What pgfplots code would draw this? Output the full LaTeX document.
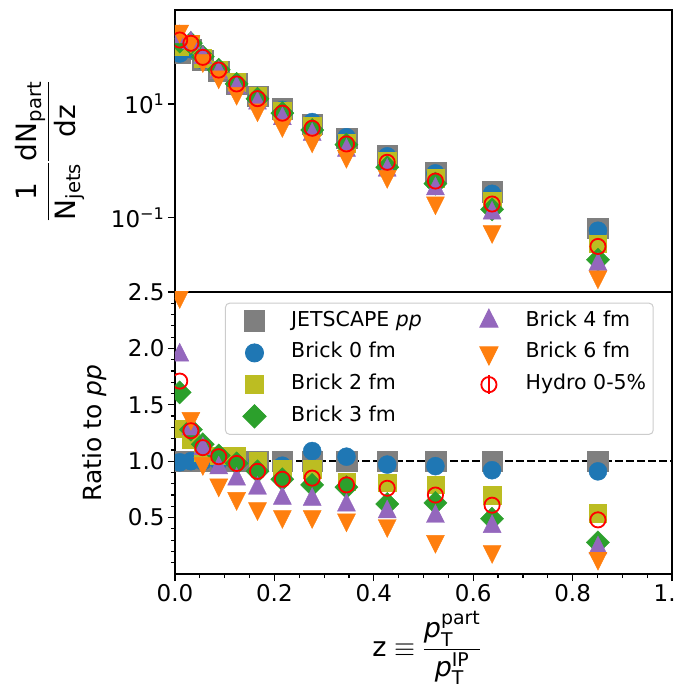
\RequirePackage{fix-cm}
\documentclass[border=0pt]{standalone}
\usepackage{amsmath}
\usepackage{fontspec}
\setmainfont{DejaVu Sans}
\usepackage{pgfplots}
\usepackage{pgfplotstable}
\pgfplotsset{compat=1.18}

\definecolor{cgray}{HTML}{7F7F7F}
\definecolor{cblue}{HTML}{1F77B4}
\definecolor{colive}{HTML}{BCBD22}
\definecolor{cgreen}{HTML}{2CA02C}
\definecolor{cpurple}{HTML}{9467BD}
\definecolor{corange}{HTML}{FF7F0E}
\definecolor{cred}{HTML}{FF0000}

% ratio to pp (bottom panel)
\pgfplotstableread{
z      pp  b0    b2   b3   b4    b6   hy
0.0095 1   0.99  1.29 1.61 1.94  2.46 1.71
0.032  1   1.00  1.19 1.28 1.285 1.38 1.27
0.056  1   1.00  1.08 1.15 1.11  0.98 1.12
0.088  1   1.00  1.05 1.05 0.94  0.79 1.04
0.124  1   1.00  1.05 0.98 0.84  0.67 0.98
0.166  1   1.00  1.00 0.91 0.76  0.58 0.91
0.216  1   0.96  0.93 0.84 0.67  0.51 0.84
0.276  1   1.09  0.93 0.79 0.66  0.51 0.85
0.345  1   1.04  0.82 0.77 0.61  0.48 0.79
0.427  1   0.97  0.81 0.62 0.55  0.43 0.76
0.524  1   0.956 0.79 0.63 0.51  0.29 0.70
0.638  1   0.92  0.70 0.49 0.42  0.20 0.61
0.851  1   0.91  0.54 0.28 0.23  0.14 0.48
}\ratiotab

% 1/Njets dN/dz (top panel)
\pgfplotstableread{
z      pp    b0     b2     b3     b4     b6     hy
0.0095 78    77.2   100.6  125.6  151.3  191.9  133.4
0.032  92    92     109.5  117.8  118.2  127    116.8
0.056  59    59     63.7   67.9   65.5   57.8   66.1
0.088  38    38     39.9   39.9   35.7   30.0   39.5
0.124  23    23     24.2   22.5   19.3   15.4   22.5
0.166  13.6  13.6   13.6   12.4   10.3   7.89   12.4
0.216  8.2   7.87   7.63   6.89   5.49   4.18   6.89
0.276  4.4   4.80   4.09   3.48   2.90   2.24   3.74
0.345  2.5   2.60   2.05   1.93   1.53   1.20   1.98
0.427  1.24  1.20   1.00   0.769  0.682  0.533  0.942
0.524  0.63  0.602  0.498  0.397  0.321  0.183  0.441
0.638  0.286 0.263  0.200  0.140  0.120  0.0572 0.174
0.851  0.065 0.059  0.0351 0.0182 0.0150 0.0091 0.0312
}\spectab

\pgfplotsset{
  spp/.style={only marks, mark=square*, mark size=10.3pt, color=cgray},
  sb0/.style={only marks, mark=*, mark size=9pt, color=cblue},
  sb2/.style={only marks, mark=square*, mark size=8.7pt, color=colive},
  sb3/.style={only marks, mark=square*, mark size=8.2pt, mark options={rotate=45}, color=cgreen},
  sb4/.style={only marks, mark=triangle*, mark size=10.4pt, mark options={yscale=1.15}, color=cpurple},
  sb6/.style={only marks, mark=triangle*, mark size=10.4pt, mark options={rotate=180,yscale=1.15}, color=corange},
  shy/.style={only marks, mark=o, mark size=7.6pt, mark options={line width=1.8pt, fill=none}, color=cred},
  legimg/.style={legend image code/.code={%
      \path[draw=none,fill=none] (-24pt,-10pt) rectangle (34.7pt,10pt);
      \draw[sharp corners,##1] plot coordinates {(0pt,0pt)};}},
  legimghy/.style={legend image code/.code={%
      \path[draw=none,fill=none] (-24pt,-10pt) rectangle (34.7pt,10pt);
      \draw[sharp corners,cred,line width=1.8pt] (0pt,-9.5pt) -- (0pt,9.5pt);
      \draw[sharp corners,##1] plot coordinates {(0pt,0pt)};}},
  common/.style={
    width=497pt, height=282pt, scale only axis,
    xmin=0, xmax=1,
    tick align=outside, xtick pos=left, ytick pos=left,
    major tick length=7pt, minor tick length=4pt,
    tick style={black, line width=1.2pt},
    axis line style={line width=1.4pt},
    tick label style={font=\fontsize{23}{27}\selectfont},
    /pgf/number format/assume math mode=true,
    clip marker paths=true,
  },
}

\begin{document}
\begin{tikzpicture}
% ---------------- top panel ----------------
\begin{axis}[common,
  at={(0pt,282pt)}, anchor=south west,
  ymode=log, ymin=0.00493, ymax=450,
  xtick=\empty,
  ytick={0.1,10}, yticklabels={10\textsuperscript{−1},10\textsuperscript{1}},
  yminorticks=false,
  ylabel={$\dfrac{\text{1}}{\text{N}_{\text{jets}}}\dfrac{\text{dN}_{\text{part}}}{\text{dz}}$},
  ylabel style={at={(axis description cs:-0.2515,0.5)}, anchor=center, font=\fontsize{28}{34}\selectfont},
]
\addplot[spp] table[x=z,y=pp]{\spectab};
\addplot[sb0] table[x=z,y=b0]{\spectab};
\addplot[sb2] table[x=z,y=b2]{\spectab};
\addplot[sb3] table[x=z,y=b3]{\spectab};
\addplot[sb4] table[x=z,y=b4]{\spectab};
\addplot[sb6] table[x=z,y=b6]{\spectab};
\addplot[shy] table[x=z,y=hy]{\spectab};
\end{axis}
% ---------------- bottom panel ----------------
\begin{axis}[common,
  at={(0pt,0pt)}, anchor=south west,
  ymin=0, ymax=2.5,
  xtick={0,0.2,0.4,0.6,0.8,1}, xticklabels={0.0,0.2,0.4,0.6,0.8,1.\phantom{0}},
  minor xtick={0.05,0.1,0.15,0.25,0.3,0.35,0.45,0.5,0.55,0.65,0.7,0.75,0.85,0.9,0.95},
  ytick={0.5,1,1.5,2,2.5}, yticklabels={0.5,1.0,1.5,2.0,2.5},
  minor ytick={0.1,0.2,0.3,0.4,0.6,0.7,0.8,0.9,1.1,1.2,1.3,1.4,1.6,1.7,1.8,1.9,2.1,2.2,2.3,2.4},
  ylabel={Ratio to \textit{pp}},
  ylabel style={at={(axis description cs:-0.161,0.5)}, anchor=center, font=\fontsize{25}{30}\selectfont},
  xlabel={$\text{z}\equiv\dfrac{\textit{p}_{\text{T}}^{\text{part}}}{\textit{p}_{\text{T}}^{\text{IP}}}$},
  xlabel style={at={(axis description cs:0.507,-0.262)}, anchor=center, inner sep=0pt, font=\fontsize{27}{32}\selectfont},
  legend columns=2, legend cell align=left,
  legend style={at={(0.1006,0.962)}, anchor=north west,
    draw=black!20, line width=1pt, rounded corners=4pt, fill=white,
    inner sep=5pt, row sep=5.7pt, /tikz/column sep=0pt,
    font=\fontsize{20.5}{24}\selectfont,
    nodes={inner sep=2pt, text height=16pt, text depth=6pt},
    /tikz/every even column/.append style={column sep=41pt}},
]
\addlegendimage{spp,legimg}\addlegendentry{JETSCAPE \textit{pp}}
\addlegendimage{sb4,legimg}\addlegendentry{Brick 4 fm}
\addlegendimage{sb0,legimg}\addlegendentry{Brick 0 fm}
\addlegendimage{sb6,legimg}\addlegendentry{Brick 6 fm}
\addlegendimage{sb2,legimg}\addlegendentry{Brick 2 fm}
\addlegendimage{shy,legimghy}\addlegendentry{Hydro 0-5\%}
\addlegendimage{sb3,legimg}\addlegendentry{Brick 3 fm}
\addplot[black, line width=2pt, dash pattern=on 7.7pt off 3.3pt, forget plot] coordinates {(0,1) (1,1)};
\addplot[spp, forget plot] table[x=z,y=pp]{\ratiotab};
\addplot[sb0, forget plot] table[x=z,y=b0]{\ratiotab};
\addplot[sb2, forget plot] table[x=z,y=b2]{\ratiotab};
\addplot[sb3, forget plot] table[x=z,y=b3]{\ratiotab};
\addplot[sb4, forget plot] table[x=z,y=b4]{\ratiotab};
\addplot[sb6, forget plot] table[x=z,y=b6]{\ratiotab};
\addplot[shy, forget plot] table[x=z,y=hy]{\ratiotab};
\end{axis}
\pgfresetboundingbox
\useasboundingbox (-175pt,-118pt) rectangle (514pt,574pt);
\end{tikzpicture}
\end{document}
